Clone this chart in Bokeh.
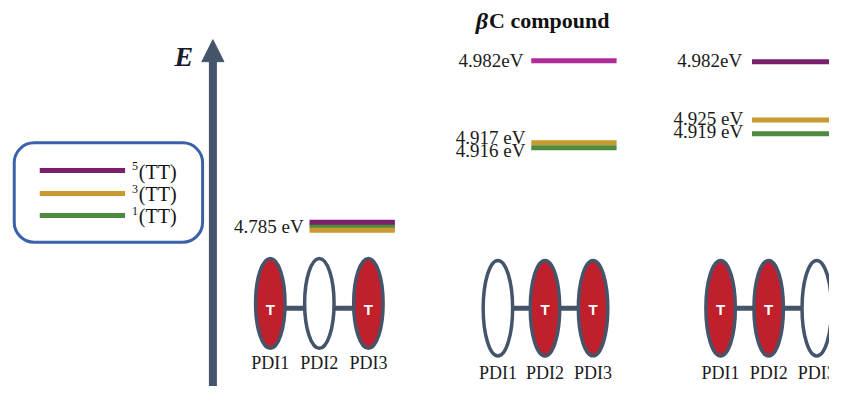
from bokeh.plotting import figure
from bokeh.models import Range1d, Arrow, NormalHead, BoxAnnotation
from bokeh.core.properties import value
from bokeh.embed import file_html
from bokeh.resources import INLINE

# ---------------- data ----------------
multiplicities = ["5", "3", "1"]          # spin multiplicity of the (TT) state
state_names = ["(TT)", "(TT)", "(TT)"]
pdi_labels = ["PDI1", "PDI2", "PDI3"]
title_symbol = "β"
title_text = "C compound"
axis_label = "E"

energies_a = [4.785, 4.785, 4.785]       # 5(TT), 3(TT), 1(TT) - PDI1/PDI3 pair
energies_b = [4.982, 4.917, 4.916]       # PDI2/PDI3 pair
energies_c = [4.982, 4.925, 4.919]       # PDI1/PDI2 pair
units_b = ["eV", " eV", " eV"]
units_c = ["eV", " eV", " eV"]
triplets_a = [1, 0, 1]
triplets_b = [0, 1, 1]
triplets_c = [1, 1, 0]

# ---------------- layout / style ----------------
SERIF = value("Liberation Serif")
SANS = value("Liberation Sans")
SLATE = "#44546a"
RED = "#c0202b"
GOLD = "#c99a30"
GREEN = "#4e8b3f"
PURPLE = "#7b1f6c"
MAGENTA = "#b02a9b"

p = figure(width=829, height=386, output_backend="svg", toolbar_location=None,
           x_range=Range1d(0, 845), y_range=Range1d(404, 0), min_border=0)
p.axis.visible = False
p.grid.visible = False
p.outline_line_color = None
p.background_fill_color = "white"

# energy axis arrow
p.add_layout(Arrow(end=NormalHead(size=22, fill_color=SLATE, line_color=SLATE),
                   x_start=216.5, y_start=412, x_end=216.5, y_end=41,
                   line_color=SLATE, line_width=8))
p.text(x=[187], y=[59], text=[axis_label], text_align="center", text_baseline="middle",
       text_font=SERIF, text_font_style="bold italic", text_font_size="28px",
       text_color="#1b1b2b")

# legend box
p.add_layout(BoxAnnotation(left=14, right=206, top=149, bottom=253, border_radius=20,
                           fill_alpha=0, line_color="#3a62a8", line_alpha=1.0,
                           line_width=3))
leg_y = [178, 202, 225]
leg_cols = [PURPLE, GOLD, GREEN]
p.segment(x0=[40] * 3, x1=[127] * 3, y0=leg_y, y1=leg_y, line_color=leg_cols, line_width=5)
p.text(x=[134] * 3, y=[y - 5 for y in leg_y], text=multiplicities, text_align="left",
       text_baseline="middle", text_font=SERIF, text_font_size="12px", text_color="#111111")
p.text(x=[141] * 3, y=[y + 1 for y in leg_y], text=state_names, text_align="left",
       text_baseline="middle", text_font=SERIF, text_font_size="20px", text_color="#111111")

# energy levels for the three pairs
groups = [
    dict(E=energies_a, cols=[PURPLE, GOLD, GREEN], ys=[232, 240.5, 236], x0=315, x1=402,
         order=[2, 0, 1]),
    dict(E=energies_b, cols=[MAGENTA, GOLD, GREEN], ys=[63, 149, 154], x0=541, x1=628,
         order=[0, 1, 2]),
    dict(E=energies_c, cols=[PURPLE, GOLD, GREEN], ys=[64, 125, 139.5], x0=766, x1=870,
         order=[0, 1, 2]),
]
for g in groups:
    for i in g["order"]:
        p.segment(x0=[g["x0"]], x1=[g["x1"]], y0=[g["ys"][i]], y1=[g["ys"][i]],
                  line_color=g["cols"][i], line_width=5)

lab_style = dict(text_baseline="middle", text_align="right", text_font=SERIF,
                 text_font_size="19px", text_color="#1a1a1a")
p.text(x=[309], y=[237], text=["%.3f eV" % energies_a[0]], **lab_style)
p.text(x=[533, 535, 535], y=[63, 143, 157],
       text=["%.3f%s" % (e, u) for e, u in zip(energies_b, units_b)], **lab_style)
p.text(x=[756, 757, 757], y=[63, 123, 137],
       text=["%.3f%s" % (e, u) for e, u in zip(energies_c, units_c)], **lab_style)

# title of middle pair
p.text(x=[497], y=[21], text=[title_symbol], text_align="right", text_baseline="middle",
       text_font=SERIF, text_font_style="bold italic", text_font_size="24px",
       text_color="#111111")
p.text(x=[498], y=[21], text=[title_text], text_align="left", text_baseline="middle",
       text_font=SERIF, text_font_style="bold", text_font_size="22px", text_color="#111111")

# molecule schematics
mols = [
    dict(t=triplets_a, xs=[275, 325, 375], yc=317, h=94, ly=379),
    dict(t=triplets_b, xs=[507, 555, 604], yc=322, h=100, ly=390),
    dict(t=triplets_c, xs=[734, 783, 832], yc=322, h=100, ly=390),
]
for m in mols:
    xs = m["xs"]
    p.segment(x0=xs[:-1], x1=xs[1:], y0=[322, 322], y1=[322, 322],
              line_color=SLATE, line_width=5)
    fills = [RED if t else "white" for t in m["t"]]
    p.ellipse(x=xs, y=[m["yc"]] * 3, width=30, height=m["h"], fill_color=fills,
              line_color=SLATE, line_width=3.5)
    tx = [x for x, t in zip(xs, m["t"]) if t]
    p.text(x=tx, y=[323] * len(tx), text=["T"] * len(tx), text_align="center",
           text_baseline="middle", text_font=SANS, text_font_style="bold",
           text_font_size="15px", text_color="white")
    p.text(x=xs, y=[m["ly"]] * 3, text=pdi_labels, text_align="center",
           text_baseline="middle", text_font=SERIF, text_font_size="18px",
           text_color="#1a1a1a")

open("out.html", "w").write(file_html(p, INLINE))
